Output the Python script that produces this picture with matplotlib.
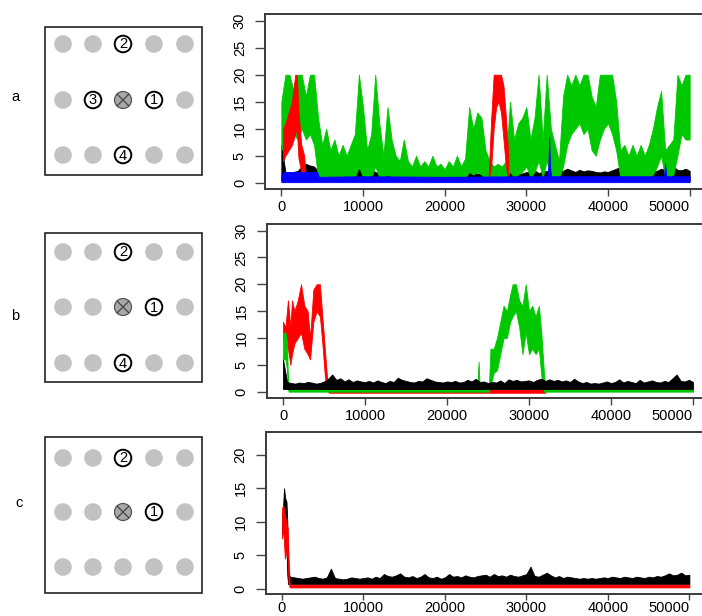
import numpy as np
import matplotlib
matplotlib.use("Agg")
import matplotlib.pyplot as plt
from matplotlib.patches import Circle, Rectangle

plt.rcParams['font.family'] = ['Liberation Sans', 'DejaVu Sans']

# ---------------- data ----------------
STEP = 500
XTICKS = [0, 10000, 20000, 30000, 40000, 50000]
XTICKLABELS = ["0", "10000", "20000", "30000", "40000", "50000"]
YTICKS_AB = [0, 5, 10, 15, 20, 25, 30]
YTICKS_C = [0, 5, 10, 15, 20]

# Panel a (grid step 500 from 0)
green_a_hi = [15, 20, 20, 17, 20, 20, 16, 20, 20, 12,
              7, 10, 6, 8, 5, 7, 5, 7, 9, 20,
              14, 6, 9, 20, 11, 5, 14, 8, 5, 4,
              8, 4, 3, 5, 3, 4, 3, 5, 3, 3.5,
              2.5, 4, 3, 5, 3, 4.5, 14, 10, 13, 12,
              6, 4, 3, 3.5, 3, 4, 15, 8, 11, 12,
              14, 8, 12, 20, 8, 20, 10, 7, 4, 16,
              20, 18, 20, 18, 20, 20, 16, 14, 20, 20,
              20, 20, 15, 6, 7, 5, 7, 5, 7, 5,
              7, 10, 14, 17, 6, 7, 8, 20, 18, 20, 20]
green_a_lo = [6, 8, 10, 9, 8, 10, 8, 9, 7, 1,
              0.8, 0.8, 0.8, 0.8, 0.8, 0.8, 0.8, 0.8, 1, 3,
              1, 0.8, 1, 3, 1, 0.8, 1.5, 1, 0.8, 0.8,
              0.8, 0.8, 0.8, 0.8, 0.8, 0.8, 0.8, 0.8, 0.8, 0.8,
              0.8, 0.8, 0.8, 0.8, 0.8, 0.8, 2, 1.5, 2, 1.5,
              0.8, 0.8, 0.8, 0.8, 0.8, 0.8, 2, 1, 1.5, 2,
              3, 1, 2, 4, 1, 4, 1.5, 1, 0.8, 3,
              7, 9, 10, 11, 9, 10, 6, 5, 8, 10,
              11, 9, 6, 1, 1, 1, 1, 1, 1, 1,
              1, 1.5, 3, 5, 1, 1, 1.5, 5, 9, 8, 8]
black_a_hi = [7, 2, 1.8, 2, 2.2, 3, 3.5, 3.2, 3, 2.2,
              1.6, 1.8, 1.5, 2, 1.7, 1.5, 1.9, 1.6, 2.2, 2.6,
              1.8, 1.7, 2.4, 2.0, 1.6, 2.9, 1.8, 1.7, 1.6, 1.8,
              1.5, 1.7, 1.9, 1.6, 1.8, 1.7, 2.3, 1.6, 1.9, 1.8,
              1.7, 2.0, 1.6, 2.4, 2.1, 2.6, 1.8, 1.9, 1.7, 1.6,
              1.9, 1.8, 2.0, 1.7, 1.8, 2.1, 1.9, 2.2, 1.8, 1.7,
              2.0, 1.9, 2.3, 1.8, 2.0, 2.2, 1.9, 2.1, 2.5, 2.2,
              2.6, 2.3, 2.0, 2.4, 2.1, 2.3, 2.2, 2.0, 1.9, 2.1,
              2.0, 2.3, 2.6, 2.9, 2.4, 2.2, 2.5, 2.3, 2.1, 2.2,
              2.0, 2.3, 2.2, 2.6, 2.4, 2.2, 3.0, 2.4, 2.3, 2.6, 2.2]
BLACK_LO = 0.4
red_a1_x = [200, 500, 900, 1300, 1700, 1900, 2100, 2450, 2800, 3000]
red_a1_hi = [10, 11, 13, 15, 20, 20, 13, 7, 5, 1]
red_a1_lo = [4, 5, 6, 7, 9, 10, 4.5, 2, 0.8, 0.5]
red_a2_x = [25400, 25700, 26000, 26300, 26600, 26900, 27200, 27500, 27800]
red_a2_hi = [2, 12, 20, 20, 20, 20, 18, 12, 5]
red_a2_lo = [0.5, 3, 10, 14, 15, 13, 8, 3, 0.5]
blue_a_x = [0, 300, 4400, 4600, 10000, 20000, 30000, 32550, 32700, 32800,
            32900, 33050, 40000, 46850, 47000, 47150, 50000]
blue_a_hi = [1.5, 2, 2, 1.1, 1.2, 1.1, 1.2, 1.2, 3, 8.6,
             3, 1.2, 1.2, 1.2, 3.5, 1.2, 1.2]
BLUE_LO = 0.1

# Panel b
red_b_x = [0, 300, 600, 900, 1100, 1400, 1800, 2200, 2600, 3000, 3300,
           3700, 4100, 4500, 4800, 5100, 5400, 5600, 32000]
red_b_hi = [13, 12, 17, 12, 17, 15, 17, 20, 16, 15, 10,
            19, 20, 20, 14, 8, 2, 0.4, 0.4]
red_b_lo = [10, 9, 8, 5, 7, 9, 10, 11, 8, 7, 6,
            13, 15, 14, 9, 3, 0.2, -0.2, -0.2]
green_b_x = [0, 300, 500, 600, 700, 23700, 23850, 24000, 25100, 25300,
             25700, 26100, 26500, 26900, 27300, 27700, 28000, 28400, 28800,
             29200, 29600, 30000, 30400, 30800, 31200, 31500, 31800, 32000, 50000]
green_b_hi = [11, 11, 9, 2, 0.4, 0.4, 5.6, 0.4, 0.4, 8,
              8, 10, 13, 16, 15, 18, 20, 20, 17,
              16, 20, 15, 16, 14, 16, 11, 4, 0.4, 0.4]
green_b_lo = [6, 6, 4, 0.5, 0, 0, 0, 0, 0, 1,
              3.5, 4, 7, 10, 10, 13, 14, 15, 12,
              7, 11, 7, 8, 7, 8, 3, 0, 0, 0]
black_b_hi = [6, 1.8, 1.6, 1.5, 1.7, 1.6, 1.8, 1.7, 1.5, 1.6,
              1.9, 2.4, 3.2, 2.2, 2.5, 1.9, 2.3, 1.8, 2.1, 1.9,
              1.8, 2.0, 1.7, 2.1, 1.8, 1.6, 2.0, 1.8, 2.6, 2.2,
              2.0, 1.8, 1.7, 2.0, 1.9, 2.5, 2.2, 1.9, 1.8, 1.7,
              1.9, 1.8, 2.0, 1.7, 1.8, 2.2, 1.9, 2.4, 1.8, 1.9,
              1.6, 1.8, 1.7, 2.1, 1.6, 2.3, 2.0, 2.2, 1.9, 2.0,
              2.1, 1.8, 2.2, 2.4, 2.0, 2.3, 2.0, 2.2, 1.9, 2.1,
              1.8, 2.4, 1.9, 1.6, 1.8, 1.5, 1.6, 1.5, 1.7, 1.9,
              1.6, 1.8, 2.3, 1.7, 2.0, 1.8, 1.6, 2.2, 1.7, 1.9,
              2.1, 1.8, 1.7, 2.0, 1.8, 2.5, 3.2, 2.0, 1.9, 2.2, 1.8]
BLACK_B_LO = 0.5

# Panel c
black_c_start_x = [0, 100, 250, 400, 550, 650, 750, 900]
black_c_start_hi = [11, 11.5, 15, 13.5, 13, 10, 3, 2]
black_c_start_lo = [8, 8.5, 9, 9, 6, 2, 0.7, 0.7]
black_c_hi = [1.8, 1.7, 1.6, 1.5, 1.6, 1.7, 1.8, 1.6, 1.5, 1.7,
              3.0, 1.6, 1.5, 1.4, 1.5, 1.7, 1.6, 1.5, 1.6, 1.7,
              1.5, 1.8, 1.6, 2.2, 1.9, 1.8, 2.0, 2.3, 1.8, 1.7,
              1.9, 1.6, 1.8, 2.2, 1.7, 1.6, 1.8, 1.5, 1.7, 2.2,
              1.8, 1.9, 1.7, 2.0, 1.8, 1.7, 1.9, 2.0, 2.1, 1.8,
              2.2, 1.9, 2.0, 1.8, 2.1, 1.9, 1.8, 2.0, 2.2, 3.3,
              1.9, 1.8, 2.1, 2.4, 2.0, 1.7, 1.9, 1.6, 1.8, 1.7,
              1.6, 1.5, 1.6, 1.5, 1.6, 1.5, 1.6, 1.7, 1.6, 1.8,
              1.7, 1.6, 1.8, 1.7, 1.6, 1.8, 1.7, 1.6, 1.8, 1.7,
              1.9, 1.8, 2.0, 2.3, 2.0, 2.1, 2.4, 2.0, 2.1]
BLACK_C_LO = 0.7
red_c_x = [0, 150, 350, 550, 700, 800, 950, 50000]
red_c_hi = [12, 12.5, 11, 10, 9, 5, 0.6, 0.6]
red_c_lo = [7.5, 9, 4.5, 5.5, 4.5, 1, 0.2, 0.2]

# Diagram contents: row strings, '.' gray dot, 'x' crossed target, digit = circled number
diag_a = ["..2..", ".3x1.", "..4.."]
diag_b = ["..2..", "..x1.", "..4.."]
diag_c = ["..2..", "..x1.", "....."]
panel_labels = ["a", "b", "c"]

# ---------------- colours ----------------
GREEN = "#00C800"
RED = "#FF0000"
BLUE = "#0000FF"
BLACK = "#000000"

W, H = 702, 616
fig = plt.figure(figsize=(W / 100, H / 100), dpi=100)

# overlay axes in pixel coordinates for the diagrams
ov = fig.add_axes([0, 0, 1, 1])
ov.set_xlim(0, W)
ov.set_ylim(H, 0)
ov.axis("off")

def draw_diagram(rows, box, row_y, label, label_xy):
    x0, y0, x1, y1 = box
    ov.add_patch(Rectangle((x0, y0), x1 - x0, y1 - y0, fill=False,
                           edgecolor="#222222", lw=1.2))
    cols = [63, 93, 123, 154, 185]
    for r, row in enumerate(rows):
        for c, ch in enumerate(row):
            cx, cy = cols[c], row_y[r]
            if ch == ".":
                ov.add_patch(Circle((cx, cy), 8.8, facecolor="#C2C2C2",
                                    edgecolor="none"))
            elif ch == "x":
                ov.add_patch(Circle((cx, cy), 8.5, facecolor="#A8A8A8",
                                    edgecolor="#555555", lw=0.9))
                d = 5.8
                ov.plot([cx - d, cx + d], [cy - d, cy + d], color="#444444", lw=0.9)
                ov.plot([cx - d, cx + d], [cy + d, cy - d], color="#444444", lw=0.9)
            else:
                ov.add_patch(Circle((cx, cy), 8.3, facecolor="white",
                                    edgecolor="black", lw=1.4))
                ov.text(cx, cy + 0.5, ch, ha="center", va="center",
                        fontsize=10.5, color="black")
    ov.text(label_xy[0], label_xy[1], label, ha="center", va="center",
            fontsize=10.5, color="black")

draw_diagram(diag_a, (45, 27, 202, 175), [44, 100, 155], panel_labels[0], (15, 97))
draw_diagram(diag_b, (45, 233, 202, 382), [252, 307, 363], panel_labels[1], (15, 316))
draw_diagram(diag_c, (45, 437, 202, 593), [458, 512, 567], panel_labels[2], (19, 503))


def add_ax(left, top, right, bottom):
    return fig.add_axes([left / W, 1 - bottom / H, (right - left) / W,
                         (bottom - top) / H])

def style(ax, ylim, yticks, xlen=5, xpad=3):
    ax.set_xlim(-2000, 52000)
    ax.set_ylim(*ylim)
    ax.set_xticks(XTICKS)
    labs = ax.set_xticklabels(XTICKLABELS, fontsize=10.5)
    labs[-1].set_horizontalalignment("right")
    ax.set_yticks(yticks)
    ax.set_yticklabels([str(t) for t in yticks], fontsize=10.5, rotation=90,
                       va="center")
    ax.tick_params(axis="y", direction="out", length=7, width=1.0,
                   color="#444444", pad=6)
    ax.tick_params(axis="x", direction="out", length=xlen, width=1.0,
                   color="#444444", pad=xpad)
    for s in ax.spines.values():
        s.set_color("#3a3a3a")
        s.set_linewidth(1.4)
    ax.set_facecolor("white")

def grid_x(vals, start=0):
    return start + STEP * np.arange(len(vals))

def band(ax, x, lo, hi, color, z):
    ax.fill_between(x, lo, hi, color=color, lw=0.6, edgecolor=color, zorder=z)

# ---- panel a ----
axa = add_ax(265, 14.2, 706, 189.2)
band(axa, grid_x(black_a_hi), BLACK_LO, black_a_hi, BLACK, 2)
band(axa, grid_x(green_a_hi), green_a_lo, green_a_hi, GREEN, 3)
band(axa, red_a1_x, red_a1_lo, red_a1_hi, RED, 4)
band(axa, red_a2_x, red_a2_lo, red_a2_hi, RED, 4)
band(axa, blue_a_x, BLUE_LO, blue_a_hi, BLUE, 5)
style(axa, (-1.2, 31.2), YTICKS_AB)

# ---- panel b ----
axb = add_ax(266.6, 224.1, 709.4, 398.1)
band(axb, red_b_x, red_b_lo, red_b_hi, RED, 2)
band(axb, green_b_x, green_b_lo, green_b_hi, GREEN, 3)
band(axb, grid_x(black_b_hi), BLACK_B_LO, black_b_hi, BLACK, 4)
style(axb, (-1.2, 31.2), YTICKS_AB)

# ---- panel c ----
axc = add_ax(265.7, 432, 705.7, 594.1)
xc = np.concatenate([black_c_start_x, grid_x(black_c_hi, 1000)])
hic = np.concatenate([black_c_start_hi, black_c_hi])
loc = np.concatenate([black_c_start_lo, np.full(len(black_c_hi), BLACK_C_LO)])
band(axc, xc, loc, hic, BLACK, 2)
band(axc, red_c_x, red_c_lo, red_c_hi, RED, 3)
style(axc, (-0.8, 23.4), YTICKS_C, xlen=4, xpad=1)

fig.savefig("out.png", dpi=100)
